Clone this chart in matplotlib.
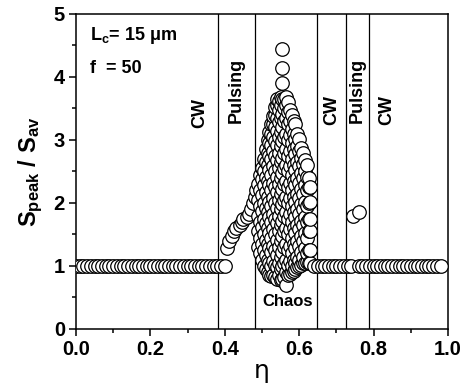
import matplotlib
matplotlib.use('Agg')
from matplotlib import pyplot as plt
from matplotlib.ticker import MultipleLocator, FormatStrFormatter

plt.rcParams['font.family'] = ['Liberation Sans', 'DejaVu Sans']
plt.rcParams['font.weight'] = 'bold'
plt.rcParams['mathtext.default'] = 'regular'

# CW branch 1 (constant ratio 1)
cw1_eta = [0.00, 0.01, 0.02, 0.03, 0.04, 0.05, 0.06, 0.07, 0.08, 0.09,
           0.10, 0.11, 0.12, 0.13, 0.14, 0.15, 0.16, 0.17, 0.18, 0.19,
           0.20, 0.21, 0.22, 0.23, 0.24, 0.25, 0.26, 0.27, 0.28, 0.29,
           0.30, 0.31, 0.32, 0.33, 0.34, 0.35, 0.36, 0.37, 0.38, 0.39, 0.40]
cw1_s = [1.0] * len(cw1_eta)

# pulsing branch 1
pulse1_eta = [0.405, 0.41, 0.42, 0.425, 0.43, 0.44, 0.445, 0.45, 0.46, 0.465, 0.47, 0.475, 0.48, 0.485]
pulse1_s = [1.28, 1.40, 1.48, 1.55, 1.60, 1.65, 1.70, 1.74, 1.78, 1.82, 1.90, 2.00, 2.10, 2.20]

# chaos region: eta -> list of peak ratios
chaos = {
    0.490: [1.30, 1.55, 1.80, 2.05, 2.30],
    0.495: [1.20, 1.45, 1.70, 1.95, 2.20, 2.45],
    0.500: [1.10, 1.35, 1.62, 1.88, 2.12, 2.38, 2.55],
    0.505: [1.00, 1.25, 1.50, 1.75, 2.00, 2.28, 2.50, 2.70],
    0.510: [0.95, 1.18, 1.42, 1.68, 1.92, 2.18, 2.42, 2.65, 2.85],
    0.515: [0.90, 1.10, 1.35, 1.60, 1.85, 2.10, 2.35, 2.60, 2.80, 3.00],
    0.520: [0.85, 1.05, 1.28, 1.52, 1.78, 2.02, 2.28, 2.52, 2.75, 2.95, 3.12],
    0.525: [0.84, 1.00, 1.22, 1.45, 1.70, 1.95, 2.20, 2.45, 2.70, 2.92, 3.10, 3.25],
    0.530: [0.86, 1.08, 1.32, 1.58, 1.82, 2.08, 2.32, 2.58, 2.82, 3.05, 3.25, 3.38],
    0.535: [0.82, 1.02, 1.25, 1.50, 1.75, 2.00, 2.25, 2.50, 2.75, 2.98, 3.20, 3.40, 3.52],
    0.540: [0.80, 0.98, 1.18, 1.42, 1.68, 1.92, 2.18, 2.42, 2.68, 2.92, 3.15, 3.35, 3.55, 3.65],
    0.545: [0.85, 1.05, 1.30, 1.55, 1.80, 2.05, 2.30, 2.55, 2.80, 3.05, 3.28, 3.48, 3.62],
    0.550: [0.78, 0.95, 1.15, 1.40, 1.65, 1.90, 2.15, 2.40, 2.65, 2.90, 3.12, 3.35, 3.55, 3.68],
    0.555: [0.80, 1.00, 1.22, 1.48, 1.72, 1.98, 2.22, 2.48, 2.72, 2.98, 3.20, 3.42, 3.65, 3.90, 4.15, 4.45],
    0.560: [0.82, 1.05, 1.30, 1.55, 1.80, 2.05, 2.30, 2.55, 2.80, 3.05, 3.30, 3.50, 3.65],
    0.565: [0.70, 0.90, 1.10, 1.35, 1.60, 1.85, 2.10, 2.35, 2.60, 2.85, 3.10, 3.35, 3.55, 3.68],
    0.570: [0.85, 1.02, 1.25, 1.50, 1.75, 2.00, 2.25, 2.50, 2.75, 3.00, 3.25, 3.45, 3.60],
    0.575: [0.88, 1.08, 1.32, 1.58, 1.82, 2.08, 2.32, 2.58, 2.82, 3.08, 3.30, 3.48],
    0.580: [0.90, 1.00, 1.20, 1.45, 1.70, 1.95, 2.20, 2.45, 2.70, 2.95, 3.18, 3.40],
    0.585: [0.92, 1.10, 1.35, 1.60, 1.85, 2.10, 2.35, 2.60, 2.85, 3.10, 3.30],
    0.590: [0.95, 1.05, 1.28, 1.52, 1.78, 2.02, 2.28, 2.52, 2.78, 3.02, 3.25],
    0.595: [0.98, 1.15, 1.40, 1.65, 1.90, 2.15, 2.40, 2.65, 2.90, 3.10],
    0.600: [1.00, 1.10, 1.32, 1.58, 1.82, 2.08, 2.32, 2.58, 2.82, 3.02],
    0.605: [1.02, 1.22, 1.48, 1.72, 1.98, 2.22, 2.48, 2.72, 2.88],
    0.610: [1.04, 1.15, 1.40, 1.65, 1.90, 2.15, 2.40, 2.62, 2.80],
    0.615: [1.05, 1.28, 1.52, 1.78, 2.02, 2.28, 2.50, 2.68],
    0.620: [1.06, 1.20, 1.45, 1.70, 1.95, 2.20, 2.42, 2.60],
    0.625: [1.05, 1.25, 1.55, 1.75, 2.00, 2.25, 2.40],
    0.630: [1.04, 1.25, 1.55, 1.75, 2.02, 2.25],
}

# CW branch 2
cw2_eta = [0.64, 0.65, 0.66, 0.67, 0.68, 0.69, 0.70, 0.71, 0.72, 0.73, 0.74]
cw2_s = [1.0] * len(cw2_eta)

# pulsing branch 2
pulse2_eta = [0.745, 0.76]
pulse2_s = [1.80, 1.86]

# CW branch 3
cw3_eta = [0.76, 0.77, 0.78, 0.79, 0.80, 0.81, 0.82, 0.83, 0.84, 0.85,
           0.86, 0.87, 0.88, 0.89, 0.90, 0.91, 0.92, 0.93, 0.94, 0.95,
           0.96, 0.97, 0.98]
cw3_s = [1.0] * len(cw3_eta)

boundaries = [0.382, 0.482, 0.647, 0.726, 0.788]
regions = [('CW', 0.333, 3.43), ('Pulsing', 0.432, 3.79), ('CW', 0.688, 3.47),
           ('Pulsing', 0.755, 3.79), ('CW', 0.835, 3.47)]

fig = plt.figure(figsize=(4.62, 3.91), dpi=100)
ax = fig.add_axes([0.1645, 0.1586, 0.8052, 0.8056])

kw = dict(s=95, facecolors='white', edgecolors='k', linewidths=0.9, zorder=3)
ax.scatter(cw1_eta, cw1_s, **kw)
ax.scatter(pulse1_eta, pulse1_s, **kw)
for eta, vals in chaos.items():
    ax.scatter([eta] * len(vals), vals, **kw)
ax.scatter(cw2_eta, cw2_s, **kw)
ax.scatter(pulse2_eta, pulse2_s, **kw)
ax.scatter(cw3_eta, cw3_s, **kw)

for b in boundaries:
    ax.axvline(b, color='k', lw=0.9, zorder=2)

for label, x, y in regions:
    ax.text(x, y, label, rotation=90, ha='center', va='center', fontsize=13, fontweight='bold')
ax.text(0.568, 0.43, 'Chaos', ha='center', va='center', fontsize=12, fontweight='bold')
ax.text(0.038, 4.59, 'L$_c$= 15 μm', fontsize=13, fontweight='bold', va='baseline')
ax.text(0.038, 4.06, 'f  = 50', fontsize=13, fontweight='bold', va='baseline')

ax.set_xlim(0, 1)
ax.set_ylim(0, 5)
ax.xaxis.set_major_locator(MultipleLocator(0.2))
ax.xaxis.set_minor_locator(MultipleLocator(0.1))
ax.yaxis.set_major_locator(MultipleLocator(1))
ax.yaxis.set_minor_locator(MultipleLocator(0.5))
ax.xaxis.set_major_formatter(FormatStrFormatter('%.1f'))
ax.tick_params(which='major', direction='out', length=5, width=1.1, labelsize=14.5, pad=3)
ax.tick_params(which='minor', direction='out', length=3, width=1.1)
for sp in ax.spines.values():
    sp.set_linewidth(1.1)

ax.set_xlabel('η', fontsize=18, fontweight='normal', family='DejaVu Sans', labelpad=0)
ax.set_ylabel('S$_{peak}$ / S$_{av}$', fontsize=17, fontweight='bold', labelpad=6)

plt.savefig('out.png', dpi=100)
